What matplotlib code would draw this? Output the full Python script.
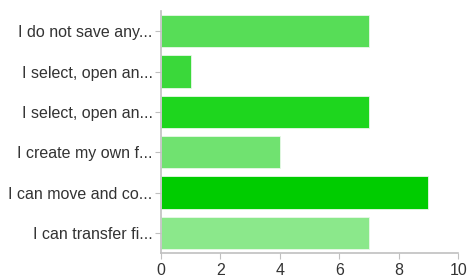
import matplotlib
matplotlib.use('Agg')
import matplotlib.pyplot as plt

plt.rcParams['font.family'] = ['Liberation Sans', 'DejaVu Sans']

labels = ['I do not save any...', 'I select, open an...', 'I select, open an...',
          'I create my own f...', 'I can move and co...', 'I can transfer fi...']
values = [7, 1, 7, 4, 9, 7]
colors = ['#57dd57', '#3ad83a', '#1ed61e', '#70e270', '#00cc00', '#8be88b']

fig = plt.figure(figsize=(4.69, 2.78), dpi=100)
ax = fig.add_axes([0.343, 0.090, 0.634, 0.870])

ypos = list(range(len(labels)))
ax.barh(ypos, values, height=0.8, color=colors, edgecolor='#e8f8e8', linewidth=0.6)

ax.set_ylim(len(labels) - 0.5, -0.5)
ax.set_xlim(0, 10)
ax.set_yticks(ypos)
ax.set_yticklabels(labels)
ax.set_xticks([0, 2, 4, 6, 8, 10])

for s in ['top', 'right']:
    ax.spines[s].set_visible(False)
for s in ['left', 'bottom']:
    ax.spines[s].set_color('#c0c0c0')
    ax.spines[s].set_linewidth(1.2)

ax.tick_params(axis='both', colors='#c0c0c0', labelcolor='#333333', labelsize=11.5, length=4)
ax.tick_params(axis='y', pad=2)

fig.savefig('out.png', dpi=100)
